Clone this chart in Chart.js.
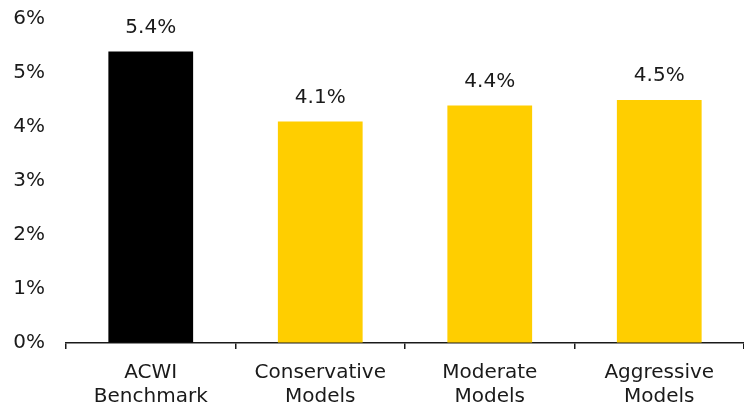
<!DOCTYPE html>
<html>
<head>
<meta charset="utf-8">
<script src="https://cdn.jsdelivr.net/npm/chart.js@4/dist/chart.umd.min.js"></script>
<style>
  html, body { margin: 0; padding: 0; background: #fff; }
  #chart { display: block; }
</style>
</head>
<body>
<canvas id="chart" width="744" height="405"></canvas>
<script>
'use strict';

// ── Data ─────────────────────────────────────────────
const categories = [['ACWI', 'Benchmark'], ['Conservative', 'Models'], ['Moderate', 'Models'], ['Aggressive', 'Models']];
const yieldValues = [5.4, 4.1, 4.4, 4.5];
const barColors = ['#000000', '#FFCE00', '#FFCE00', '#FFCE00'];
const yTicks = [0, 1, 2, 3, 4, 5, 6];

const FONT = "'DejaVu Sans', sans-serif";
const TEXT = '#1a1a1a';

// draws "x.x%" above each bar, positioned from the bar element itself
const valueLabels = {
  id: 'valueLabels',
  afterDatasetsDraw(chart) {
    const { ctx } = chart;
    const meta = chart.getDatasetMeta(0);
    ctx.save();
    ctx.font = `20px ${FONT}`;
    ctx.fillStyle = TEXT;
    ctx.textAlign = 'center';
    ctx.textBaseline = 'middle';
    meta.data.forEach((bar, i) => {
      ctx.fillText(yieldValues[i].toFixed(1) + '%', bar.x, bar.y - 24);
    });
    ctx.restore();
  },
};

new Chart(document.getElementById('chart').getContext('2d'), {
  type: 'bar',
  data: {
    labels: categories,
    datasets: [{
      data: yieldValues,
      backgroundColor: barColors,
      borderWidth: 0,
      categoryPercentage: 1,
      barPercentage: 0.5,
    }],
  },
  options: {
    responsive: false,
    animation: false,
    layout: { padding: { top: 19, right: 0, left: 0, bottom: 0 } },
    plugins: {
      legend: { display: false },
      tooltip: { enabled: false },
    },
    scales: {
      x: {
        grid: { offset: true, drawOnChartArea: false, drawTicks: true, tickLength: 6, color: TEXT, lineWidth: 1.5 },
        border: { display: true, color: TEXT, width: 1.5 },
        ticks: { color: TEXT, font: { family: FONT, size: 20 }, padding: 12, maxRotation: 0 },
        afterFit(scale) { scale.height = 62; },
      },
      y: {
        min: 0,
        max: 6,
        afterBuildTicks(scale) { scale.ticks = yTicks.map(v => ({ value: v })); },
        // invisible tick marks push the labels away from the plot
        grid: { drawOnChartArea: false, drawTicks: true, tickLength: 21, color: 'rgba(0,0,0,0)' },
        border: { display: false },
        ticks: {
          color: TEXT,
          font: { family: FONT, size: 20 },
          padding: 0,
          callback: v => v + '%',
        },
        afterFit(scale) { scale.width = 66; },
      },
    },
  },
  plugins: [valueLabels],
});
</script>
</body>
</html>
